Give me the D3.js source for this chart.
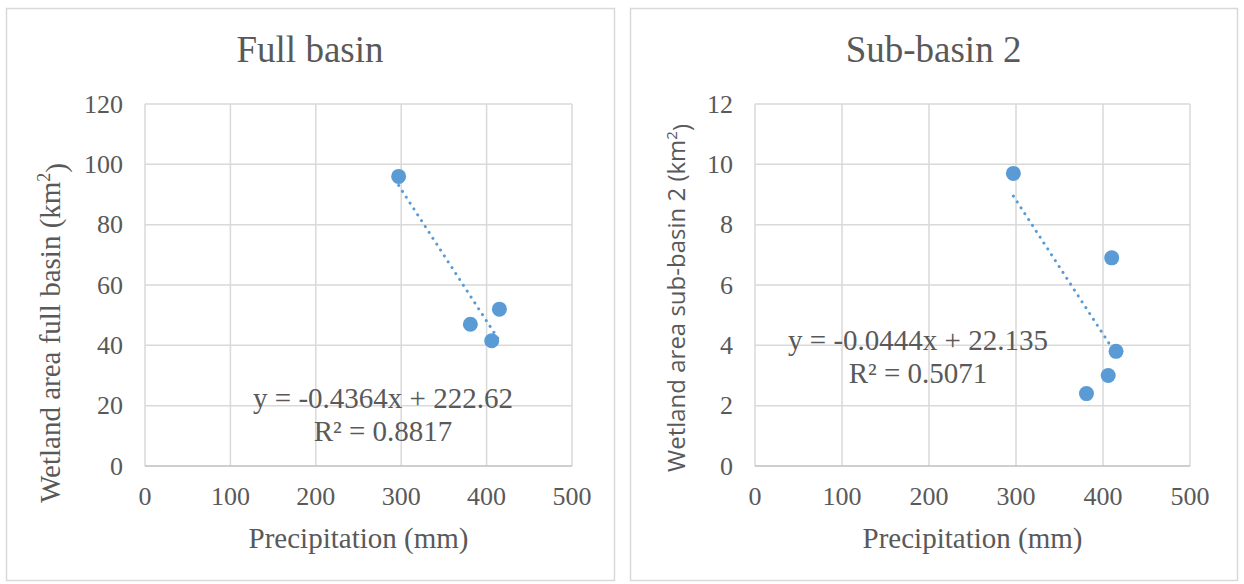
<!DOCTYPE html>
<html>
<head>
<meta charset="utf-8">
<script src="https://cdn.jsdelivr.net/npm/d3@7"></script>
<style>
  body { margin: 0; background: #fff; }
  text { font-family: "Liberation Serif", "Times New Roman", serif; fill: #595959; }
</style>
</head>
<body>
<svg id="chart" width="1244" height="584"></svg>
<script>
// full basin
var fullPrecip = [297, 381, 406, 415];
var fullArea = [96, 47, 41.5, 52];
var fullTrend = { slope: -0.4364, intercept: 222.62, r2: '0.8817' };
var fullYTicks = [0, 20, 40, 60, 80, 100, 120];

// sub-basin 2
var subPrecip = [297, 381, 406, 410, 415];
var subArea = [9.7, 2.4, 3.0, 6.9, 3.8];
var subTrend = { slope: -0.0444, intercept: 22.135, r2: '0.5071' };
var subYTicks = [0, 2, 4, 6, 8, 10, 12];

var xTicks = [0, 100, 200, 300, 400, 500];

var svg = d3.select('#chart');
var blue = '#5B9BD5';

var panels = [
  { title: 'Full basin', x: fullPrecip, y: fullArea, trend: fullTrend, yTicks: fullYTicks, yMax: 120,
    yLabel: 'Wetland area full basin (km', yFont: 'serif', box: [6, 8, 614, 580], plot: [145, 104, 572, 466],
    ylx: 50, yly: 333, eq: [383, 398] },
  { title: 'Sub-basin 2', x: subPrecip, y: subArea, trend: subTrend, yTicks: subYTicks, yMax: 12,
    yLabel: 'Wetland area sub-basin 2 (km', yFont: 'sans', box: [630, 8, 1237, 580], plot: [755, 104, 1190, 466],
    ylx: 677, yly: 298, eq: [918, 340] }
];

panels.forEach(function(p) {
  var g = svg.append('g');
  g.append('rect')
    .attr('x', p.box[0] + 0.5).attr('y', p.box[1] + 0.5)
    .attr('width', p.box[2] - p.box[0]).attr('height', p.box[3] - p.box[1])
    .attr('fill', '#fff').attr('stroke', '#d9d9d9').attr('stroke-width', 1.5);

  var x = d3.scaleLinear().domain([0, 500]).range([p.plot[0], p.plot[2]]);
  var y = d3.scaleLinear().domain([0, p.yMax]).range([p.plot[3], p.plot[1]]);

  // grid
  g.selectAll('.vg').data(xTicks).enter().append('line')
    .attr('x1', function(d) { return x(d); }).attr('x2', function(d) { return x(d); })
    .attr('y1', y(0)).attr('y2', y(p.yMax))
    .attr('stroke', '#d9d9d9').attr('stroke-width', 1.5);
  g.selectAll('.hg').data(p.yTicks).enter().append('line')
    .attr('x1', x(0)).attr('x2', x(500))
    .attr('y1', function(d) { return y(d); }).attr('y2', function(d) { return y(d); })
    .attr('stroke', function(d) { return d === 0 ? '#bfbfbf' : '#d9d9d9'; })
    .attr('stroke-width', 1.5);

  // tick labels
  g.selectAll('.yt').data(p.yTicks).enter().append('text')
    .attr('x', x(0) - 22).attr('y', function(d) { return y(d); })
    .attr('dy', '0.33em').attr('text-anchor', 'end')
    .style('font-size', '26px').text(function(d) { return d; });
  g.selectAll('.xt').data(xTicks).enter().append('text')
    .attr('x', function(d) { return x(d); }).attr('y', y(0) + 30)
    .attr('dy', '0.33em').attr('text-anchor', 'middle')
    .style('font-size', '26px').text(function(d) { return d; });

  // titles
  g.append('text').attr('x', (p.box[0] + p.box[2]) / 2).attr('y', 62)
    .attr('text-anchor', 'middle')
    .style('font-size', '37px').text(p.title);
  g.append('text').attr('x', (p.plot[0] + p.plot[2]) / 2).attr('y', 538)
    .attr('dy', '0.33em').attr('text-anchor', 'middle')
    .style('font-size', '29px').text('Precipitation (mm)');
  var yl = g.append('text')
    .attr('transform', 'translate(' + p.ylx + ',' + p.yly + ') rotate(-90)')
    .attr('dy', '0.33em').attr('text-anchor', 'middle')
    .style('font-size', p.yFont === 'sans' ? '24px' : '29px');
  if (p.yFont === 'sans') yl.style('font-family', '"Open Sans", "Noto Sans", sans-serif');
  yl.append('tspan').text(p.yLabel);
  yl.append('tspan').attr('dy', '-0.55em').style('font-size', p.yFont === 'sans' ? '15px' : '18px').text('2');
  yl.append('tspan').attr('dy', '0.55em').text(')');

  // trendline
  var x0 = d3.min(p.x), x1 = d3.max(p.x);
  var tr = p.trend;
  g.append('line')
    .attr('x1', x(x0)).attr('y1', y(tr.slope * x0 + tr.intercept))
    .attr('x2', x(x1)).attr('y2', y(tr.slope * x1 + tr.intercept))
    .attr('stroke', blue).attr('stroke-width', 3)
    .attr('stroke-linecap', 'round').attr('stroke-dasharray', '0.1 6.9');

  // points
  g.selectAll('.pt').data(p.x).enter().append('circle')
    .attr('cx', function(d) { return x(d); })
    .attr('cy', function(d, i) { return y(p.y[i]); })
    .attr('r', 7.5).attr('fill', blue);

  // equation
  g.append('text').attr('x', p.eq[0]).attr('y', p.eq[1])
    .attr('dy', '0.33em').attr('text-anchor', 'middle').style('font-size', '29px')
    .text('y = ' + tr.slope + 'x + ' + tr.intercept);
  g.append('text').attr('x', p.eq[0]).attr('y', p.eq[1] + 33)
    .attr('dy', '0.33em').attr('text-anchor', 'middle').style('font-size', '29px')
    .text('R² = ' + tr.r2);
});
</script>
</body>
</html>
